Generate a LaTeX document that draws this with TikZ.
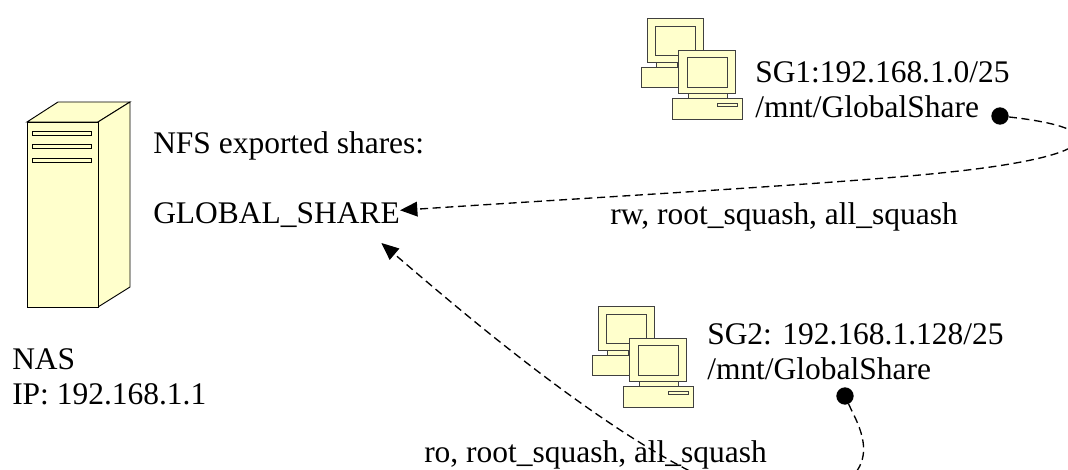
\documentclass[tikz,border=0pt]{standalone}
\usepackage{fontspec}
\setmainfont{Liberation Serif}
\usetikzlibrary{arrows.meta}
\definecolor{boxyellow}{HTML}{FFFFCC}
\tikzset{
	lbl/.style={anchor=base west, inner sep=0pt, font=\fontsize{23.6}{28}\selectfont},
	part/.style={draw=black, fill=boxyellow, line width=0.7pt},
	pcpart/.style={draw=black!75, fill=boxyellow, line width=0.7pt},
	link/.style={line width=1pt, dash pattern=on 6pt off 3.5pt, -{Triangle[length=13pt,width=11pt]}},
	dot/.style={circle, fill=black, inner sep=0pt, minimum size=13pt}
}
\begin{document}
\begin{tikzpicture}[x=0.75pt, y=-0.75pt]
		\useasboundingbox (0,0) rectangle (1068,470);
		\clip (0,0) rectangle (1068,470);
		
		% DRAW THE NAS BOX
		\draw[part] (27,122) -- (58,102) -- (130,102) -- (98,122) -- cycle;
		\draw[part] (98,122) -- (130,102) -- (130,287) -- (98,307) -- cycle;
		\draw[part] (27,122) rectangle (98,307);
		\foreach \sy in {131,144,158}
			\draw[part] (32,\sy) rectangle (91,\sy+4);
		
		% DRAW THE TWO PC PAIRS
		\foreach \px/\py in {641/18, 592/306} {
			\begin{scope}[shift={(\px,\py)}]
				\draw[pcpart] (6,0) rectangle (62,44);
				\draw[pcpart] (14,8) rectangle (54,37);
				\draw[pcpart] (15,44) rectangle (36,49);
				\draw[pcpart] (0,49) rectangle (59,69);
				\draw[pcpart] (37,32) rectangle (94,75);
				\draw[pcpart] (46,39) rectangle (86,69);
				\draw[pcpart] (47,75) rectangle (86,80);
				\draw[pcpart] (31,80) rectangle (101,101);
				\draw[pcpart] (76,85) rectangle (96,88);
			\end{scope}
		}
		
		% WRITE THE LABELS
		\node[lbl] (nas) at (12,370) {NAS};
		\node[lbl] (nasip) at (12,405) {IP: 192.168.1.1};
		
		\node[lbl] (nfs) at (153,154) {NFS exported shares:};
		\node[lbl] (gshare) at (153,224) {GLOBAL\_SHARE};
		
		\node[lbl] (sgone) at (755,83) {SG1:192.168.1.0/25};
		\node[lbl] (sgonemnt) at (755,118) {/mnt/GlobalShare};
		
		\node[lbl] (sgtwo) at (707,345) {SG2: 192.168.1.128/25};
		\node[lbl] (sgtwomnt) at (707,380) {/mnt/GlobalShare};
		
		\node[lbl] (rwopts) at (610,225) {rw, root\_squash, all\_squash};
		\node[lbl] (roopts) at (424,462) {ro, root\_squash, all\_squash};
		
		% PLACE THE MOUNT POINTS
		\node[dot] (dotone) at (1000,116) {};
		\node[dot] (dottwo) at (845,396) {};
		
		% DRAW DASHED MOUNTS
		\draw[link] (dotone) .. controls (1110,128) and (1110,155) .. (950,172)
			.. controls (850,183) and (600,197) .. ([yshift=4pt]gshare.east);
		\draw[link] (dottwo) .. controls (858,425) and (895,480) .. (800,500)
			.. controls (700,520) and (460,310) .. ([xshift=-14pt,yshift=-11pt]gshare.south east);
	\end{tikzpicture}
\end{document}
